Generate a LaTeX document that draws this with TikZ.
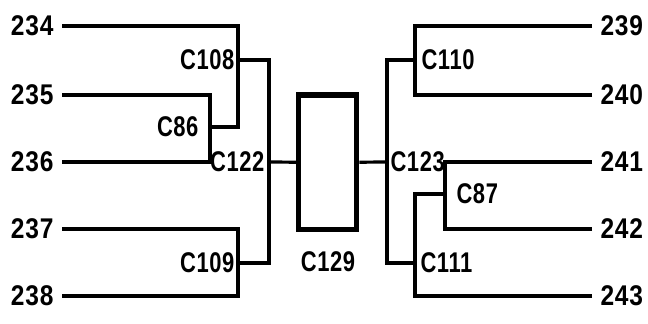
\documentclass[tikz,border=0pt]{standalone}
\usepackage{fontspec}
\setmainfont{Liberation Sans}[FakeStretch=0.86, LetterSpace=3]
\newfontfamily\tagfont{Liberation Sans}[FakeStretch=0.77, LetterSpace=2]
\begin{document}
\begin{tikzpicture}[x=1pt,y=-1pt,line width=3.2pt,
  lbl/.style={font=\fontsize{28.5}{30}\selectfont\bfseries, inner sep=0pt},
  clbl/.style={font=\fontsize{28.5}{30}\selectfont\tagfont\bfseries, inner sep=0pt},
  leafL/.style={lbl, anchor=east, outer sep=8.5pt},
  leafR/.style={lbl, anchor=west, outer sep=8.5pt},
  tagL/.style={clbl, anchor=east},
  tagR/.style={clbl, anchor=west},
  hub/.style={draw, line width=5.4pt, minimum width=58.2pt, minimum height=134.3pt, inner sep=0pt}]
\useasboundingbox (0,0) rectangle (648,324);
% leaves
\node[leafL] (l234) at (62,26) {234};
\node[leafL] (l235) at (62,95) {235};
\node[leafL] (l236) at (62,162) {236};
\node[leafL] (l237) at (62,229) {237};
\node[leafL] (l238) at (62,296) {238};
\node[leafR] (l239) at (592,26) {239};
\node[leafR] (l240) at (592,95) {240};
\node[leafR] (l241) at (592,162) {241};
\node[leafR] (l242) at (592,229) {242};
\node[leafR] (l243) at (592,296) {243};
% join points
\coordinate (c86) at (210,127);
\coordinate (c108) at (238,60);
\coordinate (c109) at (238,263);
\coordinate (c122) at (269,162);
\coordinate (c110) at (415,60);
\coordinate (c87) at (445,194);
\coordinate (c111) at (415,263);
\coordinate (c123) at (387,162);
% central box
\node[hub] (c129) at (327.6,162.2) {};
% labels
\node[tagL] (t108) at (236,60) {C108};
\node[tagL] (t86) at (200,127) {C86};
\node[tagL] (t122) at (266,162) {C122};
\node[tagL] (t109) at (236,263) {C109};
\node[clbl] (t129) at (328,262) {C129};
\node[tagR] (t110) at (420,60) {C110};
\node[tagR] (t123) at (389,162) {C123};
\node[tagR] (t87) at (455,194) {C87};
\node[tagR] (t111) at (419,263) {C111};
% left tree
\draw (l234.east) -| (c108);
\draw (l235.east) -| (c86);
\draw (l236.east) -| (c86);
\draw (c86) -| (c108);
\draw (l237.east) -| (c109);
\draw (l238.east) -| (c109);
\draw (c108) -| (c122);
\draw (c109) -| (c122);
\draw (c122) -- (c129.west);
% right tree
\draw (l239.west) -| (c110);
\draw (l240.west) -| (c110);
\draw (l241.west) -| (c87);
\draw (l242.west) -| (c87);
\draw (c87) -| (c111);
\draw (l243.west) -| (c111);
\draw (c110) -| (c123);
\draw (c111) -| (c123);
\draw (c123) -- (c129.east);
\end{tikzpicture}
\end{document}
